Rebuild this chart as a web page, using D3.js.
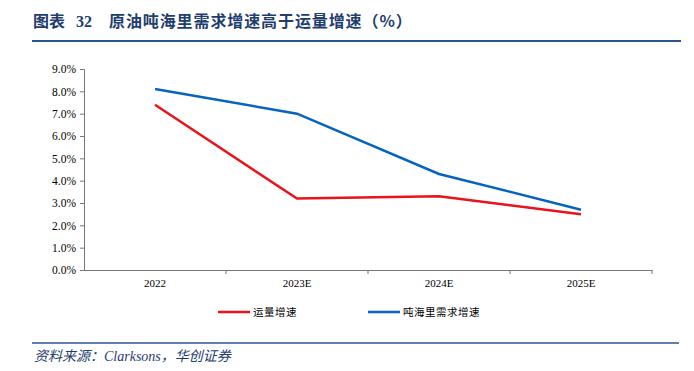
<!DOCTYPE html>
<html>
<head>
<meta charset="utf-8">
<script src="https://cdn.jsdelivr.net/npm/d3@7"></script>
<style>
  body { margin: 0; background: #fff; }
  text { font-family: "Liberation Serif", "Noto Sans CJK SC", serif; }
</style>
</head>
<body>
<script>
// data
let categories = ["2022", "2023E", "2024E", "2025E"];
let volumeGrowth = [7.4, 3.2, 3.3, 2.5];        // 运量增速
let tonMileGrowth = [8.1, 7.0, 4.3, 2.7];       // 吨海里需求增速
let seriesNames = ["运量增速", "吨海里需求增速"];
let yTicks = [0, 1, 2, 3, 4, 5, 6, 7, 8, 9];

let W = 694, H = 371;
let margin = {top: 69, right: 42, bottom: 101, left: 84},
    width = W - margin.left - margin.right,
    height = H - margin.top - margin.bottom;

let serif = "'Liberation Serif', 'Noto Sans CJK SC', serif";
let cjk = "'Noto Sans CJK SC', 'Liberation Serif', sans-serif";

let svg = d3.select("body").append("svg")
    .attr("width", W)
    .attr("height", H);

// title, in three pieces to keep the wide gaps
let titleParts = [["图表", 33, cjk], ["32", 76, serif], ["原油吨海里需求增速高于运量增速（%）", 109, cjk]];
svg.selectAll(".title")
    .data(titleParts)
    .enter().append("text")
    .attr("class", "title")
    .attr("x", function(d) { return d[1]; })
    .attr("y", 27)
    .attr("fill", "#1F3D6E")
    .attr("font-size", 16)
    .attr("font-weight", "bold")
    .attr("letter-spacing", function(d, i) { return i == 2 ? 0.9 : 0; })
    .style("font-family", function(d) { return d[2]; })
    .text(function(d) { return d[0]; });
svg.append("line")
    .attr("x1", 32).attr("x2", 681)
    .attr("y1", 41).attr("y2", 41)
    .attr("stroke", "#2F5496").attr("stroke-width", 2);

let chart = svg.append("g")
    .attr("transform", "translate(" + margin.left + "," + margin.top + ")");

let x = d3.scaleBand().domain(categories).range([0, width]);
let y = d3.scaleLinear().domain([0, 9]).range([height, 0]);

// axes
let xAxis = chart.append("g")
    .attr("transform", "translate(0," + height + ")")
    .call(d3.axisBottom(x).tickSize(0).tickPadding(9));
xAxis.attr("font-family", serif);
xAxis.selectAll("text").attr("font-size", 11).attr("fill", "#000")
    .style("font-family", serif);
xAxis.select(".domain").attr("stroke", "#777");
// tick marks between bands
xAxis.selectAll(".sep")
    .data(categories)
    .enter().append("line")
    .attr("class", "sep")
    .attr("x1", function(d) { return x(d) + x.bandwidth(); })
    .attr("x2", function(d) { return x(d) + x.bandwidth(); })
    .attr("y1", 0).attr("y2", 4)
    .attr("stroke", "#777");

let yAxis = chart.append("g")
    .call(d3.axisLeft(y).tickValues(yTicks).tickSize(4).tickPadding(4)
        .tickFormat(function(d) { return d.toFixed(1) + "%"; }));
yAxis.attr("font-family", serif);
yAxis.selectAll("text").attr("font-size", 11.5).attr("fill", "#000")
    .style("font-family", serif);
yAxis.selectAll("line").attr("stroke", "#777");
yAxis.select(".domain").attr("stroke", "#777");

let line = d3.line()
    .x(function(d, i) { return x(categories[i]) + x.bandwidth() / 2; })
    .y(function(d) { return y(d); });

chart.append("path").datum(volumeGrowth)
    .attr("fill", "none").attr("stroke", "#E8131B").attr("stroke-width", 2.5)
    .attr("d", line);
chart.append("path").datum(tonMileGrowth)
    .attr("fill", "none").attr("stroke", "#0563C1").attr("stroke-width", 2.5)
    .attr("d", line);

// legend
let colors = ["#E8131B", "#0563C1"];
let legendX = [218, 368];
let legend = svg.selectAll(".legend")
    .data(seriesNames)
    .enter().append("g")
    .attr("class", "legend")
    .attr("transform", function(d, i) { return "translate(" + legendX[i] + ",312)"; });
legend.append("line")
    .attr("x1", 0).attr("x2", 32).attr("y1", 0).attr("y2", 0)
    .attr("stroke", function(d, i) { return colors[i]; })
    .attr("stroke-width", 2.5);
legend.append("text")
    .attr("x", 35).attr("y", 4)
    .attr("font-size", 10.5)
    .attr("letter-spacing", 0.5)
    .attr("fill", "#000")
    .text(function(d) { return d; });

// source
svg.append("line")
    .attr("x1", 32).attr("x2", 679)
    .attr("y1", 343).attr("y2", 343)
    .attr("stroke", "#2F5496").attr("stroke-width", 1.5);
svg.append("text")
    .attr("x", 34).attr("y", 361)
    .attr("fill", "#1F3D6E")
    .attr("font-size", 14)
    .attr("font-style", "italic")
    .text("资料来源：Clarksons，华创证券");
</script>
</body>
</html>
